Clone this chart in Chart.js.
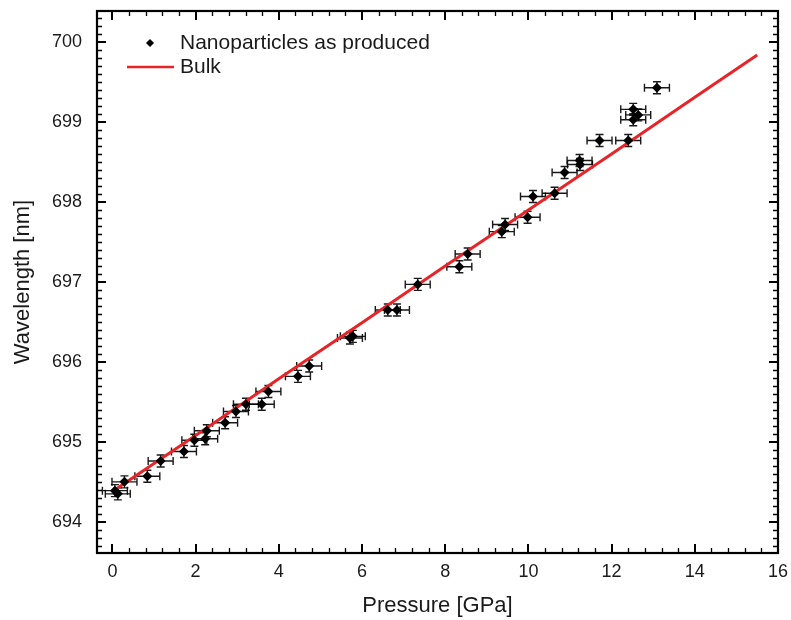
<!DOCTYPE html>
<html><head><meta charset="utf-8">
<script src="https://cdn.jsdelivr.net/npm/chart.js@4.4.1/dist/chart.umd.min.js"></script>
<style>html,body{margin:0;padding:0;background:#fff;} #wrap{width:791px;height:620px;}</style>
</head><body><div id="wrap"><canvas id="c" width="791" height="620"></canvas></div>
<script>
// Nanoparticles as produced (pressure in GPa, wavelength in nm)
const pressure = [0.06, 0.13, 0.29, 0.84, 1.16, 1.72, 1.97, 2.23, 2.27, 2.71, 2.97, 3.21, 3.59, 3.75, 4.46, 4.73, 5.71, 5.78, 6.62, 6.84, 7.34, 8.34, 8.54, 9.36, 9.44, 9.98, 10.11, 10.63, 10.87, 11.23, 11.24, 11.71, 12.40, 12.52, 12.52, 12.64, 13.09];
const wavelength = [694.39, 694.35, 694.50, 694.57, 694.76, 694.88, 695.02, 695.04, 695.14, 695.24, 695.38, 695.47, 695.47, 695.63, 695.82, 695.95, 696.30, 696.32, 696.65, 696.65, 696.97, 697.19, 697.35, 697.63, 697.72, 697.81, 698.07, 698.11, 698.37, 698.52, 698.47, 698.77, 698.77, 699.16, 699.03, 699.09, 699.43];
const pressureErr = 0.3;
const wavelengthErr = 0.075;
// Bulk reference curve
const bulkPressure = [0, 2, 4, 6, 8, 10, 12, 14, 15.5];
const bulkWavelength = [694.38, 695.08, 695.79, 696.49, 697.20, 697.90, 698.60, 699.31, 699.84];
// Axis ticks
const xTicks = [0, 2, 4, 6, 8, 10, 12, 14, 16];
const yTicks = [694, 695, 696, 697, 698, 699, 700];
const xMinorStep = 0.4;
const yMinorStep = 0.1;
const seriesLabels = ['Nanoparticles as produced', 'Bulk'];

const FONT = "'Liberation Sans', Arial, sans-serif";
const RED = 'rgb(232,36,40)';

const framePlugin = {
  id: 'frameTicks',
  beforeDatasetsDraw(chart) {
    const ctx = chart.ctx, xs = chart.scales.x, ys = chart.scales.y;
    ctx.save();
    ctx.strokeStyle = 'rgba(0,0,0,0.9)';
    ctx.lineWidth = 1.4;
    const cw = 4, ch = 4;
    pressure.forEach((p, i) => {
      const w = wavelength[i];
      const x0 = xs.getPixelForValue(p - pressureErr), x1 = xs.getPixelForValue(p + pressureErr);
      const y0 = ys.getPixelForValue(w - wavelengthErr), y1 = ys.getPixelForValue(w + wavelengthErr);
      const cx = xs.getPixelForValue(p), cy = ys.getPixelForValue(w);
      ctx.beginPath();
      ctx.moveTo(x0, cy); ctx.lineTo(x1, cy);
      ctx.moveTo(x0, cy - ch); ctx.lineTo(x0, cy + ch);
      ctx.moveTo(x1, cy - ch); ctx.lineTo(x1, cy + ch);
      ctx.moveTo(cx, y0); ctx.lineTo(cx, y1);
      ctx.moveTo(cx - cw, y0); ctx.lineTo(cx + cw, y0);
      ctx.moveTo(cx - cw, y1); ctx.lineTo(cx + cw, y1);
      ctx.stroke();
    });
    ctx.restore();
  },
  afterDraw(chart) {
    const ctx = chart.ctx, a = chart.chartArea, xs = chart.scales.x, ys = chart.scales.y;
    ctx.save();
    ctx.strokeStyle = '#000';
    const maj = 9, min = 5;
    const xMinors = [];
    for (let k = Math.ceil(xs.min / xMinorStep); k * xMinorStep <= xs.max + 1e-9; k++) xMinors.push(+(k * xMinorStep).toFixed(4));
    const yMinors = [];
    for (let k = Math.ceil(ys.min / yMinorStep - 1e-9); k * yMinorStep <= ys.max + 1e-9; k++) yMinors.push(+(k * yMinorStep).toFixed(4));
    ctx.lineWidth = 1.3;
    ctx.beginPath();
    xMinors.forEach(v => {
      if (xTicks.some(t => Math.abs(t - v) < 1e-6)) return;
      const x = Math.round(xs.getPixelForValue(v)) + 0.5;
      ctx.moveTo(x, a.bottom); ctx.lineTo(x, a.bottom - min);
      ctx.moveTo(x, a.top); ctx.lineTo(x, a.top + min);
    });
    yMinors.forEach(v => {
      if (yTicks.some(t => Math.abs(t - v) < 1e-6)) return;
      const y = Math.round(ys.getPixelForValue(v)) + 0.5;
      ctx.moveTo(a.left, y); ctx.lineTo(a.left + min, y);
      ctx.moveTo(a.right, y); ctx.lineTo(a.right - min, y);
    });
    ctx.stroke();
    ctx.lineWidth = 2;
    ctx.beginPath();
    xTicks.forEach(v => {
      const x = Math.round(xs.getPixelForValue(v));
      ctx.moveTo(x, a.bottom); ctx.lineTo(x, a.bottom - maj);
      ctx.moveTo(x, a.top); ctx.lineTo(x, a.top + maj);
    });
    yTicks.forEach(v => {
      const y = Math.round(ys.getPixelForValue(v));
      ctx.moveTo(a.left, y); ctx.lineTo(a.left + maj, y);
      ctx.moveTo(a.right, y); ctx.lineTo(a.right - maj, y);
    });
    ctx.stroke();
    ctx.lineWidth = 2.2;
    ctx.strokeRect(a.left, a.top, a.right - a.left, a.bottom - a.top);
    // legend
    ctx.fillStyle = '#000';
    const lx = 150, ly1 = 43, ly2 = 67;
    ctx.beginPath();
    ctx.moveTo(lx - 4, ly1); ctx.lineTo(lx, ly1 - 4); ctx.lineTo(lx + 4, ly1); ctx.lineTo(lx, ly1 + 4); ctx.closePath();
    ctx.fill();
    ctx.strokeStyle = RED; ctx.lineWidth = 2.5;
    ctx.beginPath(); ctx.moveTo(127, ly2); ctx.lineTo(174, ly2); ctx.stroke();
    ctx.fillStyle = '#1a1a1a';
    ctx.font = '21px ' + FONT;
    ctx.textBaseline = 'middle'; ctx.textAlign = 'left';
    ctx.fillText(seriesLabels[0], 180, ly1);
    ctx.fillText(seriesLabels[1], 180, ly2);
    ctx.restore();
  }
};

new Chart(document.getElementById('c'), {
  type: 'scatter',
  data: {
    datasets: [
      {
        label: seriesLabels[0],
        data: pressure.map((p, i) => ({x: p, y: wavelength[i]})),
        pointStyle: 'rectRot', pointRadius: 5, pointHoverRadius: 5,
        backgroundColor: '#000', borderWidth: 0, order: 0
      },
      {
        label: seriesLabels[1],
        data: bulkPressure.map((p, i) => ({x: p, y: bulkWavelength[i]})),
        showLine: true, pointRadius: 0, borderColor: RED, borderWidth: 3, fill: false, order: 1
      }
    ]
  },
  options: {
    responsive: false, animation: false,
    layout: {padding: {top: 11, right: 13, left: 0, bottom: 0}},
    plugins: {legend: {display: false}, tooltip: {enabled: false}},
    scales: {
      x: {
        type: 'linear', min: -0.37, max: 16,
        afterBuildTicks: s => { s.ticks = xTicks.map(v => ({value: v})); },
        afterFit: s => { s.height = 67; s.paddingLeft = 0; s.paddingRight = 0; },
        grid: {display: false, drawTicks: false},
        border: {display: false},
        ticks: {font: {family: FONT, size: 18}, color: '#1a1a1a', padding: 8, maxRotation: 0},
        title: {display: true, text: 'Pressure [GPa]', font: {family: FONT, size: 22}, color: '#1a1a1a', padding: {top: 1, bottom: 1}}
      },
      y: {
        type: 'linear', min: 693.61, max: 700.39,
        afterBuildTicks: s => { s.ticks = yTicks.map(v => ({value: v})); },
        afterFit: s => { s.width = 97; s.paddingTop = 0; s.paddingBottom = 0; },
        grid: {display: false, drawTicks: false},
        border: {display: false},
        ticks: {font: {family: FONT, size: 18}, color: '#1a1a1a', padding: 15},
        title: {display: true, text: 'Wavelength [nm]', font: {family: FONT, size: 22}, color: '#1a1a1a', padding: {top: 10, bottom: 10}}
      }
    }
  },
  plugins: [framePlugin]
});
</script>
</body></html>
